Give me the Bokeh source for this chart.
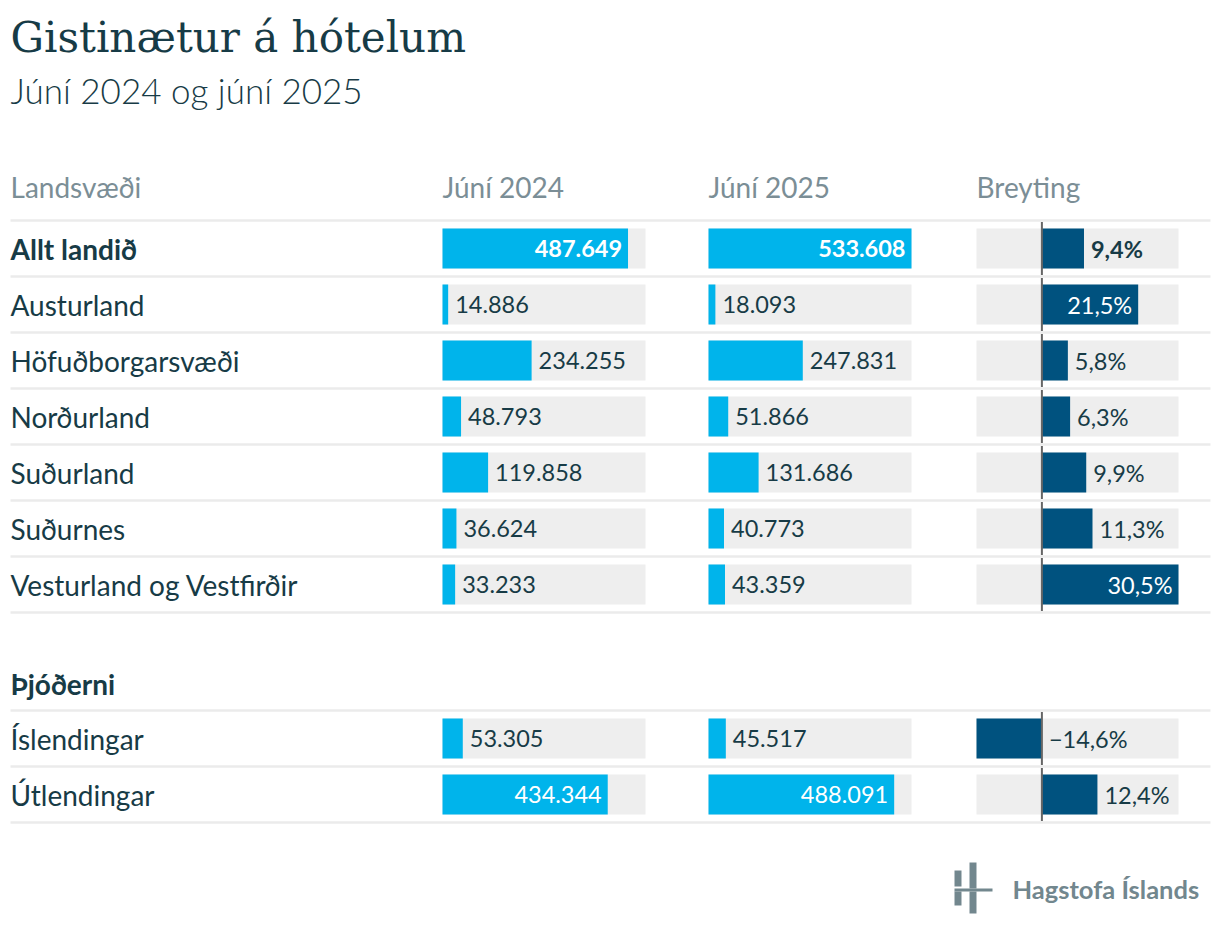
from bokeh.plotting import figure
from bokeh.models import ColumnDataSource, Range1d, Label
from bokeh.core.properties import value
from bokeh.embed import file_html
from bokeh.resources import INLINE

# ---------------- data ----------------
title_text = "Gistinætur á hótelum"
subtitle_text = "Júní 2024 og júní 2025"
col_headers = ["Landsvæði", "Júní 2024", "Júní 2025", "Breyting"]

regions = ["Allt landið", "Austurland", "Höfuðborgarsvæði", "Norðurland",
           "Suðurland", "Suðurnes", "Vesturland og Vestfirðir"]
jun2024_reg = [487649, 14886, 234255, 48793, 119858, 36624, 33233]
jun2025_reg = [533608, 18093, 247831, 51866, 131686, 40773, 43359]
change_reg = [9.4, 21.5, 5.8, 6.3, 9.9, 11.3, 30.5]

group2_title = "Þjóðerni"
nationality = ["Íslendingar", "Útlendingar"]
jun2024_nat = [53305, 434344]
jun2025_nat = [45517, 488091]
change_nat = [-14.6, 12.4]

source_text = "Hagstofa Íslands"

# ---------------- style ----------------
FONT = "Lato"
DARK = "#173b46"
GREY_TXT = "#7b8e96"
LIGHT_BLUE = "#00b4eb"
DARK_BLUE = "#00527f"
BG = "#eeeeee"
SEP = "#ebebeb"
ZERO = "#666666"
LOGO = "#72878e"
LABEL_PX = "28px"
VALUE_PX = "23.5px"

W0, W1 = 0, 1212          # page pixels covered by the frame (horizontal)
H0, H1 = 0, 930

p = figure(width=W1 - W0, height=H1 - H0,
           x_range=Range1d(W0, W1), y_range=Range1d(H1, H0),
           output_backend="svg", toolbar_location=None, min_border=0)
p.axis.visible = False
p.grid.visible = False
p.outline_line_color = None
p.background_fill_color = "white"


def span_range(px0, px1, d0, d1):
    k = (d1 - d0) / (px1 - px0)
    return Range1d(d0 - (px0 - W0) * k, d1 + (W1 - px1) * k)


vmax = max(jun2024_reg + jun2025_reg + jun2024_nat + jun2025_nat)
allchg = change_reg + change_nat
cmin, cmax = min(allchg), max(allchg)

p.extra_x_ranges = {
    "v24": span_range(442, 645, 0, vmax),
    "v25": span_range(708, 911, 0, vmax),
    "chg": span_range(976, 1178, cmin, cmax),
}

# row layout
ROW_H = 56
BAR_H = 40
g1_y = [248 + ROW_H * i for i in range(len(regions))]
g2_y = [738 + ROW_H * i for i in range(len(nationality))]
rows_y = g1_y + g2_y
labels = regions + nationality
v24 = jun2024_reg + jun2024_nat
v25 = jun2025_reg + jun2025_nat
chg = change_reg + change_nat
bold = [True] + [False] * (len(labels) - 1)

# separators
seps = [g1_y[0] - ROW_H / 2 + i * ROW_H for i in range(len(g1_y) + 1)] + \
       [g2_y[0] - ROW_H / 2 + i * ROW_H for i in range(len(g2_y) + 1)]
p.segment(x0=10, x1=1210, y0=seps, y1=seps, line_color=SEP, line_width=2.5)

# headers
hdr_x = [10, 442, 708, 976]
p.text(x=hdr_x, y=[186] * 4, text=col_headers, text_font=value(FONT),
       text_font_size=LABEL_PX, text_color=GREY_TXT, text_baseline="middle")

p.text(x=[10], y=[683], text=[group2_title], text_font=value(FONT),
       text_font_size=LABEL_PX, text_color=DARK, text_baseline="middle",
       text_font_style="bold")

# row labels
p.text(x=[10] * len(labels), y=rows_y, text=labels, text_font=value(FONT),
       text_font_size=LABEL_PX, text_color=DARK, text_baseline="middle",
       text_font_style=["bold" if b else "normal" for b in bold])


def fmt_int(v):
    return f"{v:,}".replace(",", ".")


def fmt_pct(v):
    s = f"{abs(v):.1f}".replace(".", ",") + "%"
    return ("\u2212" + s) if v < 0 else s


# value columns
for rname, vals in (("v24", v24), ("v25", v25)):
    p.hbar(y=rows_y, left=0, right=[vmax] * len(vals), height=BAR_H,
           fill_color=BG, line_color=None, x_range_name=rname)
    p.hbar(y=rows_y, left=0, right=vals, height=BAR_H,
           fill_color=LIGHT_BLUE, line_color=None, x_range_name=rname)
    inside = [v / vmax > 0.6 for v in vals]
    src = ColumnDataSource(dict(
        x=vals, y=rows_y, text=[fmt_int(v) for v in vals],
        align=["right" if i else "left" for i in inside],
        off=[-6 if i else 7 for i in inside],
        color=["white" if i else DARK for i in inside],
        style=["bold" if b else "normal" for b in bold]))
    p.text(x="x", y="y", text="text", source=src, x_offset="off",
           text_align="align", text_color="color", text_font_style="style",
           text_font=value(FONT), text_font_size=VALUE_PX,
           text_baseline="middle", x_range_name=rname)

# change column
p.hbar(y=rows_y, left=cmin, right=cmax, height=BAR_H,
       fill_color=BG, line_color=None, x_range_name="chg")
p.hbar(y=rows_y, left=0, right=chg, height=BAR_H,
       fill_color=DARK_BLUE, line_color=None, x_range_name="chg")
p.segment(x0=0, x1=0, y0=[y - ROW_H / 2 + 1.5 for y in rows_y],
          y1=[y + ROW_H / 2 - 1.5 for y in rows_y], line_color=ZERO,
          line_width=2, x_range_name="chg")
c_inside = [c > 0 and c / cmax > 0.6 for c in chg]
csrc = ColumnDataSource(dict(
    x=[c if c > 0 else 0 for c in chg], y=rows_y, text=[fmt_pct(c) for c in chg],
    align=["right" if i else "left" for i in c_inside],
    off=[-6 if i else 7 for i in c_inside],
    color=["white" if i else DARK for i in c_inside],
    style=["bold" if b else "normal" for b in bold]))
p.text(x="x", y="y", text="text", source=csrc, x_offset="off",
       text_align="align", text_color="color", text_font_style="style",
       text_font=value(FONT), text_font_size=VALUE_PX,
       text_baseline="middle", x_range_name="chg")

# title & subtitle
p.add_layout(Label(x=10, y=37, text=title_text, text_font="DejaVu Serif",
                   text_font_size="42px", text_color=DARK, text_baseline="alphabetic"))
p.add_layout(Label(x=10, y=89, text=subtitle_text, text_font="Lato Light",
                   text_font_size="35px", text_color=DARK, text_baseline="alphabetic"))

# source logo
p.quad(left=[954, 954, 969, 969, 954], right=[961, 961, 976, 976, 992],
       top=[870, 891, 862, 891, 888], bottom=[886, 905, 888, 913, 891],
       fill_color=LOGO, line_color=None)
p.text(x=[1012], y=[888], text=[source_text], text_font=value(FONT),
       text_font_size="25.5px", text_font_style="bold", text_color=LOGO,
       text_baseline="alphabetic")

open("out.html", "w").write(file_html(p, INLINE))
